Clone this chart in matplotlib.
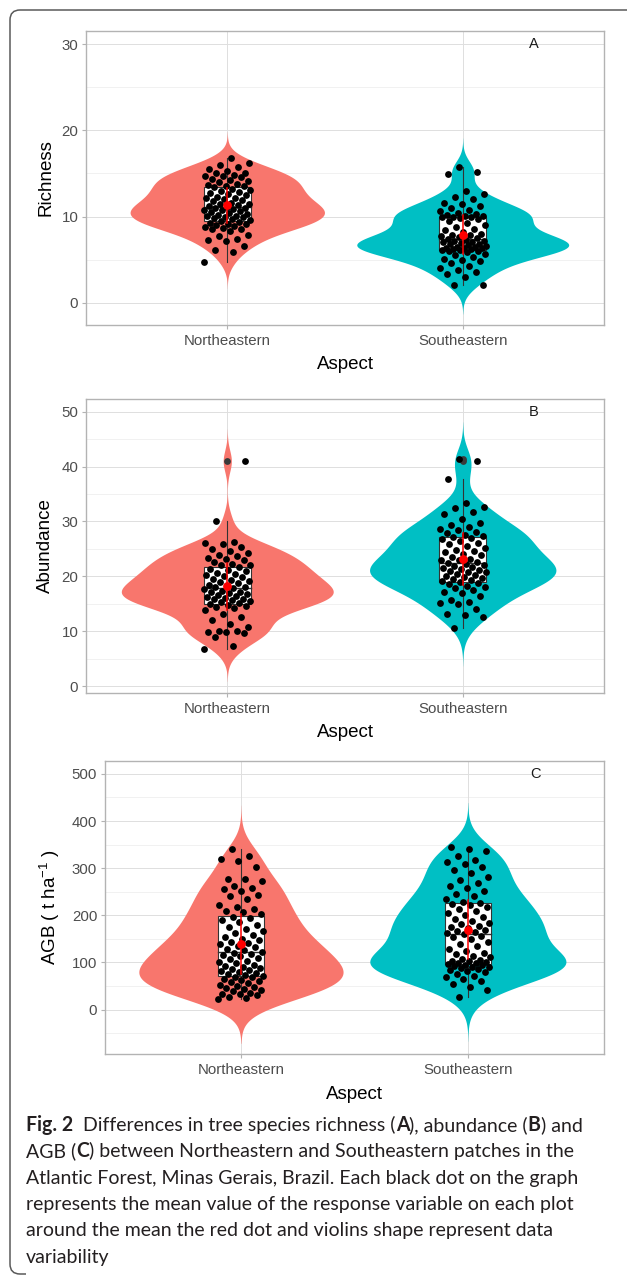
import numpy as np
import matplotlib
matplotlib.use('Agg')
import matplotlib.pyplot as plt
from matplotlib import font_manager
from matplotlib.path import Path
from matplotlib.patches import PathPatch

plt.rcParams['font.family'] = ['Liberation Sans', 'DejaVu Sans']
plt.rcParams['mathtext.fontset'] = 'custom'
plt.rcParams['mathtext.rm'] = 'Liberation Sans'
plt.rcParams['mathtext.it'] = 'Liberation Sans:italic'
plt.rcParams['mathtext.bf'] = 'Liberation Sans:bold'

W, H = 627, 1276

groups = ['Northeastern', 'Southeastern']
fills = ['#F8766D', '#00BFC4']

richness_ne = [4.7, 5.9, 6.1, 6.6, 7.2, 7.3, 7.4, 7.7, 7.9, 8.3,
               8.5, 8.6, 8.7, 8.8, 8.9, 9.0, 9.1, 9.1, 9.3, 9.4,
               9.5, 9.6, 9.7, 9.8, 9.9, 10.0, 10.1, 10.1, 10.2, 10.3,
               10.4, 10.5, 10.6, 10.7, 10.8, 10.9, 11.0, 11.0, 11.1, 11.2,
               11.3, 11.4, 11.5, 11.6, 11.8, 11.9, 12.0, 12.1, 12.2, 12.3,
               12.5, 12.6, 12.7, 12.9, 13.0, 13.1, 13.2, 13.4, 13.5, 13.6,
               13.7, 13.8, 14.0, 14.1, 14.2, 14.4, 14.6, 14.7, 14.7, 14.8,
               15.0, 15.1, 15.3, 15.5, 15.8, 16.0, 16.2, 16.8]
richness_se = [2.0, 2.1, 3.0, 3.3, 3.5, 3.8, 4.0, 4.3, 4.6, 4.8,
               5.0, 5.1, 5.3, 5.5, 5.7, 5.9, 6.0, 6.0, 6.1, 6.1,
               6.2, 6.2, 6.3, 6.3, 6.4, 6.5, 6.5, 6.6, 6.7, 6.8,
               6.8, 6.9, 7.0, 7.0, 7.1, 7.2, 7.3, 7.4, 7.5, 7.6,
               7.7, 7.8, 7.9, 8.0, 8.2, 8.4, 8.6, 8.8, 9.0, 9.3,
               9.5, 9.7, 9.8, 9.9, 10.0, 10.0, 10.1, 10.1, 10.2, 10.3,
               10.4, 10.6, 10.8, 11.0, 11.2, 11.4, 11.6, 12.0, 12.3, 12.6,
               13.0, 14.9, 15.2, 15.8]

abundance_ne = [6.7, 7.3, 8.9, 9.7, 9.8, 9.9, 10.0, 10.0, 10.8, 11.3,
                12.1, 12.6, 13.1, 13.8, 14.2, 14.4, 14.6, 14.8, 15.0, 15.1,
                15.3, 15.5, 15.6, 15.8, 15.9, 16.1, 16.2, 16.4, 16.6, 16.7,
                16.9, 17.1, 17.2, 17.4, 17.6, 17.8, 18.0, 18.1, 18.3, 18.5,
                18.7, 18.9, 19.1, 19.3, 19.6, 19.8, 20.0, 20.2, 20.4, 20.6,
                20.9, 21.1, 21.4, 21.7, 22.0, 22.1, 22.3, 22.6, 22.9, 23.1,
                23.4, 23.7, 23.9, 24.2, 24.6, 25.0, 25.4, 25.8, 26.0, 26.3,
                30.0, 41.0]
abundance_se = [10.5, 12.5, 13.0, 13.1, 14.0, 14.9, 15.1, 15.3, 15.6, 16.4,
                16.9, 17.1, 17.5, 17.9, 18.1, 18.3, 18.6, 18.8, 19.0, 19.2,
                19.3, 19.5, 19.7, 19.9, 20.1, 20.3, 20.5, 20.7, 20.8, 20.9,
                21.1, 21.3, 21.5, 21.7, 21.9, 22.1, 22.3, 22.4, 22.6, 22.9,
                23.0, 23.2, 23.5, 23.8, 24.1, 24.4, 24.6, 24.8, 25.2, 25.6,
                25.9, 26.0, 26.4, 26.8, 27.0, 27.1, 27.4, 27.5, 27.8, 28.1,
                28.4, 28.6, 29.0, 29.3, 29.8, 30.5, 31.3, 31.7, 32.5, 32.7,
                33.3, 37.8, 41.0, 41.3]

agb_ne = [22, 25, 27, 30, 32, 33, 36, 40, 42, 44, 46, 48, 50, 53, 56, 58, 60, 62, 65, 68, 70,
          72, 74, 76, 78, 80, 82, 84, 86, 88, 90, 92, 95, 98, 101, 104, 107, 110, 113, 115, 118, 120,
          123, 126, 129, 132, 135, 138, 141, 144, 147, 150, 154, 158, 162, 166, 170, 175, 180, 185, 190, 194, 197,
          202, 206, 210, 213, 218, 222, 235, 240, 243, 252, 255, 257, 262, 273, 277, 278, 302, 315, 320, 325, 340]
agb_se = [27, 42, 47, 55, 60, 64, 68, 72, 76, 79, 82, 84, 86, 88, 90, 91, 92, 94, 95, 96,
          98, 99, 100, 102, 104, 106, 108, 111, 114, 117, 121, 125, 129, 134, 139, 144, 149, 153, 157, 160,
          162, 164, 166, 169, 172, 175, 178, 181, 184, 188, 192, 196, 200, 205, 210, 214, 218, 221, 224, 226,
          229, 234, 240, 246, 252, 258, 263, 268, 275, 282, 290, 297, 302, 308, 312, 318, 325, 337, 340, 345]

ylabels = ['Richness', 'Abundance', r'AGB ( t ha$^{-1}$ )']
letters = ['A', 'B', 'C']
yticks = [[0, 10, 20, 30], [0, 10, 20, 30, 40, 50], [0, 100, 200, 300, 400, 500]]
yminor = [[5, 15, 25], [5, 15, 25, 35, 45], [-50, 50, 150, 250, 350, 450]]
ylims = [(-2.6, 31.55), (-1.2, 52.3), (-95, 528)]
panel_data = [(richness_ne, richness_se), (abundance_ne, abundance_se), (agb_ne, agb_se)]

# axes boxes in pixels: left, top, right, bottom
boxes = [(86, 31, 604, 325), (86, 399, 604, 692.7), (104.8, 760.7, 604, 1054.3)]
ylab_x = [54, 54, 62]

grey30 = '#4D4D4D'
grey70 = '#B3B3B3'

fig = plt.figure(figsize=(W / 100, H / 100), dpi=100)


def kde(v):
    v = np.asarray(v, float)
    n = len(v)
    q1, q3 = np.percentile(v, [25, 75])
    bw = 0.9 * min(v.std(ddof=1), (q3 - q1) / 1.34) * n ** -0.2
    grid = np.linspace(v.min() - 3 * bw, v.max() + 3 * bw, 512)
    d = np.exp(-0.5 * ((grid[:, None] - v[None, :]) / bw) ** 2).sum(1)
    d /= n * bw * np.sqrt(2 * np.pi)
    return grid, d


for k in range(3):
    l, t, r, b = boxes[k]
    ax = fig.add_axes([l / W, 1 - b / H, (r - l) / W, (b - t) / H])
    ax.set_xlim(0.4, 2.6)
    ax.set_ylim(*ylims[k])
    ax.set_axisbelow(True)
    for y in yminor[k]:
        ax.axhline(y, color='#EBEBEB', lw=0.5, zorder=0)
    for y in yticks[k]:
        ax.axhline(y, color='#DEDEDE', lw=0.7, zorder=0)
    for x in [1, 2]:
        ax.axvline(x, color='#DEDEDE', lw=0.7, zorder=0)

    dens = [kde(v) for v in panel_data[k]]
    dmax = max(d.max() for _, d in dens)
    for i, v in enumerate(panel_data[k]):
        pos = i + 1
        v = np.asarray(v, float)
        grid, d = dens[i]
        hw = 0.45 * d / dmax
        ax.fill_betweenx(grid, pos - hw, pos + hw, color=fills[i], lw=0, zorder=2)

        # boxplot
        q1, med, q3 = np.percentile(v, [25, 50, 75])
        iqr = q3 - q1
        inside = v[(v >= q1 - 1.5 * iqr) & (v <= q3 + 1.5 * iqr)]
        lo, hi = inside.min(), inside.max()
        out = v[(v < q1 - 1.5 * iqr) | (v > q3 + 1.5 * iqr)]
        ax.add_patch(plt.Rectangle((pos - 0.1, q1), 0.2, iqr, facecolor='white',
                                   edgecolor='#333333', lw=0.8, zorder=3))
        ax.plot([pos - 0.1, pos + 0.1], [med, med], color='#333333', lw=1.0, zorder=3)
        ax.plot([pos, pos], [q3, hi], color='#333333', lw=0.8, zorder=3)
        ax.plot([pos, pos], [lo, q1], color='#333333', lw=0.8, zorder=3)
        ax.scatter(np.full(len(out), pos), out, s=24, color='#3a3a3a', lw=0, zorder=3)

        # jittered points
        jit = ((np.arange(len(v)) * 0.618034 + 0.31 * i) % 1 - 0.5) * 0.2
        ax.scatter(pos + jit, v, s=24, color='black', lw=0, zorder=4)

        # mean (red dot) with a red spread line
        m, sd = v.mean(), v.std(ddof=1)
        ax.plot([pos, pos], [m - 0.75 * sd, m + 0.75 * sd], color='red', lw=1.1, zorder=5)
        ax.scatter([pos], [m], s=40, color='red', lw=0, zorder=6)

    ax.text(2.3, yticks[k][-1], letters[k], ha='center', va='center',
            fontsize=10.5, color='#1A1A1A', zorder=7)

    ax.set_xticks([1, 2])
    ax.set_xticklabels(groups)
    ax.set_yticks(yticks[k])
    ax.tick_params(axis='both', colors=grey70, length=3, width=0.8, labelsize=10.8,
                   labelcolor=grey30, pad=2.5)
    ax.tick_params(axis='x', pad=3.5)
    for s in ax.spines.values():
        s.set_color(grey70)
        s.set_linewidth(1.0)
    ax.set_xlabel('Aspect', fontsize=13.5, labelpad=6)
    ax.set_ylabel(ylabels[k], fontsize=13.5)
    ax.yaxis.set_label_coords((ylab_x[k] - l) / (r - l), 0.5)


# caption
def have(name):
    try:
        font_manager.findfont(font_manager.FontProperties(family=name), fallback_to_default=False)
        return True
    except ValueError:
        return False


cap_font = 'Lato' if have('Lato') else 'Open Sans'
caption = [
    [('Fig. 2', True), ('  Differences in tree species richness (', False), ('A', True),
     ('), abundance (', False), ('B', True), (') and', False)],
    [('AGB (', False), ('C', True), (') between Northeastern and Southeastern patches in the', False)],
    [('Atlantic Forest, Minas Gerais, Brazil. Each black dot on the graph', False)],
    [('represents the mean value of the response variable on each plot', False)],
    [('around the mean the red dot and violins shape represent data', False)],
    [('variability', False)],
]

fig.canvas.draw()
rend = fig.canvas.get_renderer()


def seg_width(s, bold, size):
    w = 'bold' if bold else 'normal'
    t1 = fig.text(0, 0, s + '|', fontsize=size, fontweight=w, family=cap_font)
    t2 = fig.text(0, 0, '|', fontsize=size, fontweight=w, family=cap_font)
    out = t1.get_window_extent(rend).width - t2.get_window_extent(rend).width
    t1.remove()
    t2.remove()
    return out


ref = sum(seg_width(s, bd, 10) for s, bd in caption[0])
cap_size = 10 * 557 / ref
x0, base0, step = 26, 1131, 26.3
for j, line in enumerate(caption):
    x = x0
    y = base0 + j * step
    for s, bd in line:
        fig.text(x / W, 1 - y / H, s, fontsize=cap_size, family=cap_font,
                 fontweight='bold' if bd else 'normal', va='baseline', ha='left', color='#231F20')
        x += seg_width(s, bd, cap_size)

# frame with rounded left corners
pts = [(W + 2, 10), (20, 10), (10, 10), (10, 20), (10, 1264), (10, 1274), (20, 1274), (26, 1274)]
codes = [Path.MOVETO, Path.LINETO, Path.CURVE3, Path.CURVE3, Path.LINETO, Path.CURVE3, Path.CURVE3, Path.LINETO]
verts = [(px / W, 1 - py / H) for px, py in pts]
fig.add_artist(PathPatch(Path(verts, codes), transform=fig.transFigure, fill=False,
                         edgecolor='#5A5A5A', lw=1.1))

fig.savefig('out.png', dpi=100)
